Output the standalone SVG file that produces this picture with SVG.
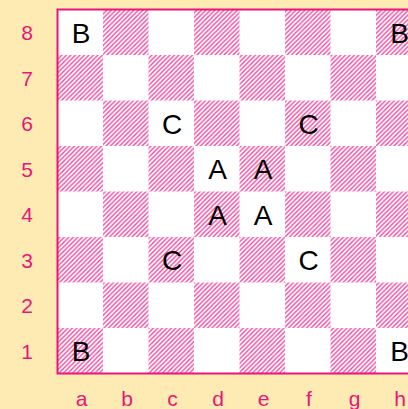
<svg xmlns="http://www.w3.org/2000/svg" width="408" height="409" viewBox="0 0 408 409">
<defs>
<pattern id="hatch" patternUnits="userSpaceOnUse" width="4.5" height="4.5">
<path d="M-1,1 L1,-1 M0,4.5 L4.5,0 M3.5,5.5 L5.5,3.5" stroke="#f0409a" stroke-width="1.3"/>
</pattern>
<style>
.lbl{font-family:"Liberation Sans",Arial,sans-serif;font-size:21px;fill:#e8157a;text-anchor:middle}
.pc{font-family:"Liberation Sans",Arial,sans-serif;font-size:28px;fill:#000;text-anchor:middle}
.dk{fill:url(#hatch)}
</style>
</defs>
<rect width="408" height="409" fill="#feebb3"/>
<g id="board">
<rect x="57.5" y="9.5" width="364" height="364" fill="#fff"/>
<g id="dark-squares">
<rect class="dk" x="103" y="9.5" width="45.5" height="45.5"/>
<rect class="dk" x="194" y="9.5" width="45.5" height="45.5"/>
<rect class="dk" x="285" y="9.5" width="45.5" height="45.5"/>
<rect class="dk" x="376" y="9.5" width="45.5" height="45.5"/>
<rect class="dk" x="57.5" y="55" width="45.5" height="45.5"/>
<rect class="dk" x="148.5" y="55" width="45.5" height="45.5"/>
<rect class="dk" x="239.5" y="55" width="45.5" height="45.5"/>
<rect class="dk" x="330.5" y="55" width="45.5" height="45.5"/>
<rect class="dk" x="103" y="100.5" width="45.5" height="45.5"/>
<rect class="dk" x="194" y="100.5" width="45.5" height="45.5"/>
<rect class="dk" x="285" y="100.5" width="45.5" height="45.5"/>
<rect class="dk" x="376" y="100.5" width="45.5" height="45.5"/>
<rect class="dk" x="57.5" y="146" width="45.5" height="45.5"/>
<rect class="dk" x="148.5" y="146" width="45.5" height="45.5"/>
<rect class="dk" x="239.5" y="146" width="45.5" height="45.5"/>
<rect class="dk" x="330.5" y="146" width="45.5" height="45.5"/>
<rect class="dk" x="103" y="191.5" width="45.5" height="45.5"/>
<rect class="dk" x="194" y="191.5" width="45.5" height="45.5"/>
<rect class="dk" x="285" y="191.5" width="45.5" height="45.5"/>
<rect class="dk" x="376" y="191.5" width="45.5" height="45.5"/>
<rect class="dk" x="57.5" y="237" width="45.5" height="45.5"/>
<rect class="dk" x="148.5" y="237" width="45.5" height="45.5"/>
<rect class="dk" x="239.5" y="237" width="45.5" height="45.5"/>
<rect class="dk" x="330.5" y="237" width="45.5" height="45.5"/>
<rect class="dk" x="103" y="282.5" width="45.5" height="45.5"/>
<rect class="dk" x="194" y="282.5" width="45.5" height="45.5"/>
<rect class="dk" x="285" y="282.5" width="45.5" height="45.5"/>
<rect class="dk" x="376" y="282.5" width="45.5" height="45.5"/>
<rect class="dk" x="57.5" y="328" width="45.5" height="45.5"/>
<rect class="dk" x="148.5" y="328" width="45.5" height="45.5"/>
<rect class="dk" x="239.5" y="328" width="45.5" height="45.5"/>
<rect class="dk" x="330.5" y="328" width="45.5" height="45.5"/>
</g>
<path d="M421.5,9.5 H57.5 V373.5 H421.5" fill="none" stroke="#e8157a" stroke-width="2"/>
</g>
<g id="rank-labels">
<text class="lbl" x="27" y="40">8</text>
<text class="lbl" x="27" y="85.5">7</text>
<text class="lbl" x="27" y="131">6</text>
<text class="lbl" x="27" y="176.5">5</text>
<text class="lbl" x="27" y="222">4</text>
<text class="lbl" x="27" y="267.5">3</text>
<text class="lbl" x="27" y="313">2</text>
<text class="lbl" x="27" y="358.5">1</text>
</g>
<g id="file-labels">
<text class="lbl" x="81.5" y="406">a</text>
<text class="lbl" x="127" y="406">b</text>
<text class="lbl" x="172.5" y="406">c</text>
<text class="lbl" x="218" y="406">d</text>
<text class="lbl" x="263.5" y="406">e</text>
<text class="lbl" x="309" y="406">f</text>
<text class="lbl" x="354.5" y="406">g</text>
<text class="lbl" x="400" y="406">h</text>
</g>
<g id="pieces">
<g id="B-a8"><text class="pc" x="81" y="42.5">B</text></g>
<g id="B-h8"><text class="pc" x="399.5" y="42.5">B</text></g>
<g id="B-a1"><text class="pc" x="81" y="361">B</text></g>
<g id="B-h1"><text class="pc" x="399.5" y="361">B</text></g>
<g id="C-c6"><text class="pc" x="172" y="133.5">C</text></g>
<g id="C-f6"><text class="pc" x="308.5" y="133.5">C</text></g>
<g id="C-c3"><text class="pc" x="172" y="270">C</text></g>
<g id="C-f3"><text class="pc" x="308.5" y="270">C</text></g>
<g id="A-d5"><text class="pc" x="217.5" y="179">A</text></g>
<g id="A-e5"><text class="pc" x="263" y="179">A</text></g>
<g id="A-d4"><text class="pc" x="217.5" y="224.5">A</text></g>
<g id="A-e4"><text class="pc" x="263" y="224.5">A</text></g>
</g>
</svg>
